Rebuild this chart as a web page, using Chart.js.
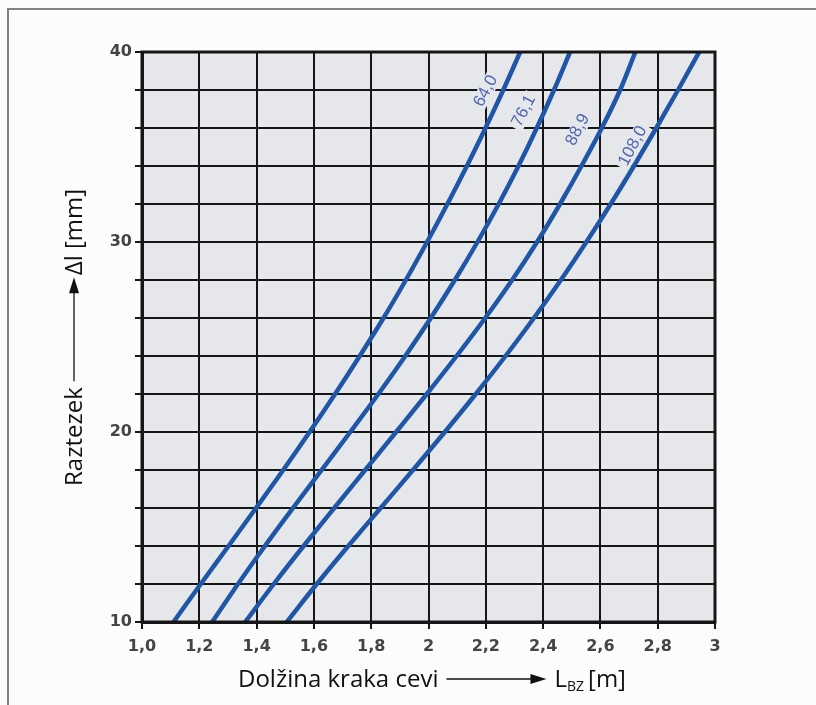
<!DOCTYPE html>
<html>
<head>
<meta charset="utf-8">
<script src="https://cdn.jsdelivr.net/npm/chart.js@4/dist/chart.umd.min.js"></script>
<style>
html,body{margin:0;padding:0;background:#fcfcfc;}
#wrap{width:816px;height:705px;position:relative;}
</style>
</head>
<body>
<div id="wrap"><canvas id="c" width="816" height="705"></canvas></div>
<script>
// ---- data ----
const xTickLabels = ['1,0','1,2','1,4','1,6','1,8','2','2,2','2,4','2,6','2,8','3'];
const yTickLabels = ['10','','','','','20','','','','','30','','','','','40'];
const curveNames = ['64,0','76,1','88,9','108,0'];

// elongation ΔI [mm] at which the leg lengths below were read
const dlValues = [10, 12, 14, 16, 18, 20, 22, 24, 26, 28, 30, 32, 34, 36, 38, 40];

// leg length L_BZ [m] for each pipe diameter
const len64  = [1.110, 1.205, 1.302, 1.398, 1.493, 1.585, 1.674, 1.760, 1.843, 1.921, 1.995, 2.066, 2.134, 2.199, 2.261, 2.320];
const len76  = [1.245, 1.335, 1.429, 1.527, 1.627, 1.727, 1.825, 1.919, 2.008, 2.092, 2.171, 2.245, 2.314, 2.378, 2.438, 2.494];
const len89  = [1.360, 1.460, 1.564, 1.671, 1.779, 1.887, 1.994, 2.098, 2.198, 2.292, 2.379, 2.459, 2.534, 2.605, 2.669, 2.722];
const len108 = [1.505, 1.610, 1.720, 1.833, 1.946, 2.057, 2.165, 2.269, 2.368, 2.462, 2.551, 2.636, 2.717, 2.795, 2.871, 2.945];

// caption anchor points (data coordinates) for the curve captions
const captionX = [2.20, 2.333, 2.521, 2.713];
const captionY = [37.95, 36.9, 35.9, 35.05];

// ---- styling ----
const PLOT_BG = '#e5e7ea';
const GRID = '#161616';
const CURVE = '#1f56a6';
const CAPTION = '#5068b0';

function pts(xs, ys){ return xs.map((v,i)=>({x:v, y:ys[i]})); }
const seriesData = [len64, len76, len89, len108].map(l => pts(l, dlValues));

const bgPlugin = {
  id:'bg',
  beforeDraw(chart){
    const {ctx, chartArea:a} = chart;
    ctx.save();
    ctx.fillStyle = '#fcfcfc';
    ctx.fillRect(0,0,chart.width,chart.height);
    ctx.strokeStyle = '#808080';
    ctx.lineWidth = 2;
    ctx.beginPath();
    ctx.moveTo(8,705); ctx.lineTo(8,9); ctx.lineTo(816,9);
    ctx.stroke();
    ctx.fillStyle = PLOT_BG;
    ctx.fillRect(a.left, a.top, a.right-a.left, a.bottom-a.top);
    ctx.restore();
  }
};

const captionPlugin = {
  id:'captions',
  beforeDatasetsDraw(chart){
    const {ctx, scales:{x,y}} = chart;
    ctx.save();
    ctx.font = '17px "Liberation Sans", Arial, sans-serif';
    curveNames.forEach((name,i)=>{
      const px = x.getPixelForValue(captionX[i]);
      const py = y.getPixelForValue(captionY[i]);
      ctx.save();
      ctx.translate(px,py);
      ctx.rotate(-62*Math.PI/180);
      const w = ctx.measureText(name).width;
      ctx.fillStyle = PLOT_BG;
      ctx.fillRect(-w/2-3,-8,w+6,16);
      ctx.fillStyle = CAPTION;
      ctx.textAlign = 'center';
      ctx.textBaseline = 'middle';
      ctx.fillText(name,0,0);
      ctx.restore();
    });
    ctx.restore();
  },
  afterDatasetsDraw(chart){
    const {ctx, chartArea:a} = chart;
    ctx.save();
    ctx.strokeStyle = GRID;
    ctx.lineWidth = 3;
    ctx.strokeRect(a.left, a.top, a.right-a.left, a.bottom-a.top);
    ctx.restore();
  }
};

function drawArrowTitle(ctx, parts, startX, baseY){
  let cx = startX;
  parts.forEach(p=>{
    if (p.arrow){
      const y = baseY - 8;
      ctx.beginPath();
      ctx.lineWidth = 1.3;
      ctx.moveTo(cx, y); ctx.lineTo(cx + p.arrow - 12, y);
      ctx.stroke();
      ctx.beginPath();
      ctx.moveTo(cx + p.arrow, y);
      ctx.lineTo(cx + p.arrow - 16, y - 5);
      ctx.lineTo(cx + p.arrow - 16, y + 5);
      ctx.closePath();
      ctx.fill();
      cx += p.arrow + (p.gapAfter||0);
    } else {
      ctx.font = p.sub ? '14px "Open Sans", sans-serif' : '24px "Open Sans", sans-serif';
      ctx.fillText(p.t, cx, baseY + (p.sub?4:0));
      cx += ctx.measureText(p.t).width + (p.gapAfter||0);
    }
  });
}

const titlePlugin = {
  id:'titles',
  afterDraw(chart){
    const {ctx} = chart;
    ctx.save();
    ctx.fillStyle = '#111';
    ctx.strokeStyle = '#111';
    ctx.textBaseline = 'alphabetic';
    ctx.textAlign = 'left';
    drawArrowTitle(ctx, [
      {t:'Dolžina kraka cevi', gapAfter:8},
      {arrow:100, gapAfter:8},
      {t:'L'},
      {t:'BZ', sub:true, gapAfter:4},
      {t:'[m]'}
    ], 238, 687);
    ctx.translate(82, 486);
    ctx.rotate(-Math.PI/2);
    drawArrowTitle(ctx, [
      {t:'Raztezek', gapAfter:6},
      {arrow:104, gapAfter:2},
      {t:'Δl [mm]'}
    ], 0, 0);
    ctx.restore();
  }
};

const tickFont = {family:'"DejaVu Sans", sans-serif', size:16, weight:'bold'};

new Chart(document.getElementById('c'), {
  type:'scatter',
  data:{
    datasets: seriesData.map((d,i)=>({
      label: curveNames[i],
      data: d,
      showLine:true,
      borderColor: CURVE,
      borderWidth: 4.5,
      pointRadius: 0,
      fill:false,
      cubicInterpolationMode:'monotone'
    }))
  },
  options:{
    responsive:false,
    animation:false,
    devicePixelRatio:1,
    layout:{padding:{top:52,right:101,left:0,bottom:0}},
    plugins:{legend:{display:false}, tooltip:{enabled:false}, title:{display:false}},
    scales:{
      x:{
        type:'linear', min:1, max:3,
        afterFit(s){ s.height = 83; },
        ticks:{stepSize:0.2, autoSkip:false, maxRotation:0, padding:8,
          color:'#444', font:tickFont,
          callback:(v,i)=>xTickLabels[i]},
        grid:{color:GRID, lineWidth:2, tickLength:7, tickColor:GRID, tickWidth:2},
        border:{color:GRID, width:3}
      },
      y:{
        type:'linear', min:10, max:40,
        afterFit(s){ s.width = 142; },
        ticks:{stepSize:2, autoSkip:false, padding:3,
          color:'#444', font:tickFont,
          callback:(v,i)=>yTickLabels[i]},
        grid:{color:GRID, lineWidth:2, tickLength:7, tickColor:GRID, tickWidth:2},
        border:{color:GRID, width:3}
      }
    }
  },
  plugins:[bgPlugin, captionPlugin, titlePlugin]
});
</script>
</body>
</html>
